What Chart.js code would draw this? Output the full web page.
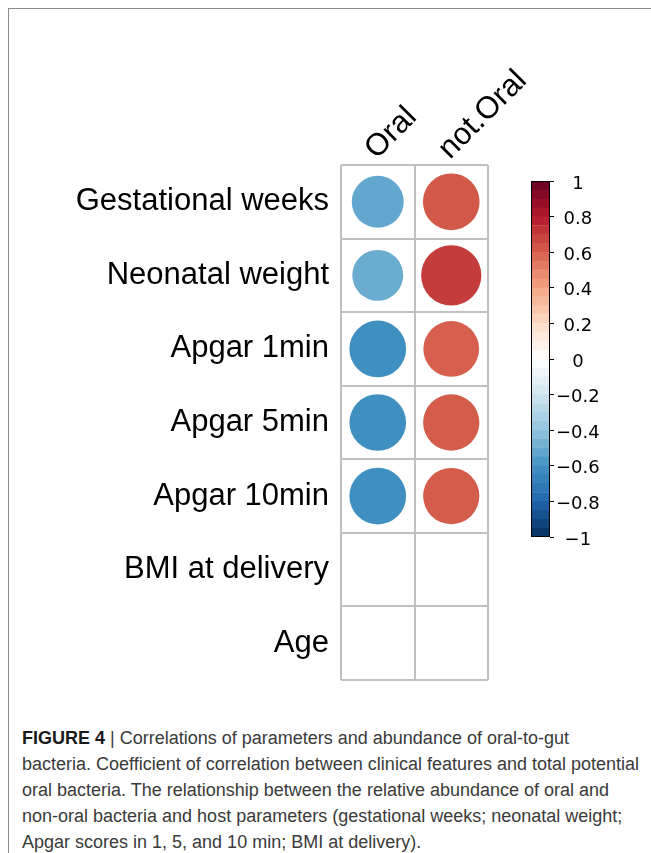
<!DOCTYPE html>
<html>
<head>
<meta charset="utf-8">
<script src="https://cdn.jsdelivr.net/npm/chart.js@4/dist/chart.umd.min.js"></script>
<style>
  html, body { margin: 0; padding: 0; background: #fff; }
  body { width: 651px; height: 853px; position: relative; overflow: hidden; }
  #frame { position: absolute; left: 8px; top: 8px; width: 660px; height: 860px;
           border-top: 1px solid #8c8c8c; border-left: 1px solid #8c8c8c; }
  #main { position: absolute; left: 0; top: 0; }
  #cbar { position: absolute; left: 500px; top: 150px; }
  #caption { position: absolute; left: 22px; top: 725px; font-family: "Liberation Sans", Arial, sans-serif;
             font-size: 18px; line-height: 26px; color: #3a3a3a; white-space: nowrap; }
  #caption b { color: #1a1a1a; }
</style>
</head>
<body>
<div id="frame"></div>
<canvas id="main" width="651" height="720"></canvas>
<canvas id="cbar" width="140" height="420"></canvas>
<div id="caption">
<b>FIGURE 4</b> | Correlations of parameters and abundance of oral-to-gut<br>
bacteria. Coefficient of correlation between clinical features and total potential<br>
oral bacteria. The relationship between the relative abundance of oral and<br>
non-oral bacteria and host parameters (gestational weeks; neonatal weight;<br>
Apgar scores in 1, 5, and 10 min; BMI at delivery).
</div>
<script>
// ---------- data ----------
const columns = ['Oral', 'not.Oral'];
const rowLabels = ['Gestational weeks', 'Neonatal weight', 'Apgar 1min', 'Apgar 5min',
                   'Apgar 10min', 'BMI at delivery', 'Age'];
const oralValues    = [-0.52, -0.50, -0.62, -0.62, -0.62, null, null];
const notOralValues = [ 0.62,  0.70,  0.60,  0.61,  0.61, null, null];
const colorbarTicks = [1, 0.8, 0.6, 0.4, 0.2, 0, -0.2, -0.4, -0.6, -0.8, -1];
const colorbarBands = 40;

// ---------- palette ----------
const rdbu = ['#053061','#2166AC','#4393C3','#92C5DE','#D1E5F0','#FFFFFF',
              '#FDDBC7','#F4A582','#D6604D','#B2182B','#67001F'];
function hex2rgb(h){ return [1,3,5].map(i => parseInt(h.substr(i,2),16)); }
function colorFor(v){
  const t = Math.max(0, Math.min(1, (v + 1) / 2)) * (rdbu.length - 1);
  const i = Math.min(rdbu.length - 2, Math.floor(t));
  const f = t - i;
  const a = hex2rgb(rdbu[i]), b = hex2rgb(rdbu[i+1]);
  const c = a.map((x, k) => Math.round(x + (b[k] - x) * f));
  return `rgb(${c[0]},${c[1]},${c[2]})`;
}

// ---------- main correlation grid ----------
const seriesByColumn = [oralValues, notOralValues];
const points = [];
seriesByColumn.forEach((vals, ci) => {
  vals.forEach((v, ri) => {
    if (v !== null) points.push({ x: columns[ci], y: rowLabels[ri], v: v });
  });
});

const labelFont = { family: '"Liberation Sans", Arial, Helvetica, sans-serif', size: 31 };
const gridColor = '#c0c0c0';

new Chart(document.getElementById('main'), {
  type: 'scatter',
  data: {
    datasets: [{
      data: points,
      pointStyle: 'circle',
      borderWidth: 0,
      pointBorderWidth: 0,
      backgroundColor: ctx => colorFor(ctx.raw.v),
      pointBackgroundColor: ctx => colorFor(ctx.raw.v),
      pointRadius: ctx => {
        const s = ctx.chart.scales.x;
        const cell = s.width / columns.length;
        return 0.49 * cell * Math.sqrt(Math.abs(ctx.raw.v));
      }
    }]
  },
  options: {
    responsive: false,
    animation: false,
    events: [],
    layout: { padding: { left: 0, top: 0, right: 163, bottom: 40 } },
    plugins: { legend: { display: false }, tooltip: { enabled: false } },
    scales: {
      x: {
        type: 'category',
        labels: columns,
        position: 'top',
        offset: true,
        grid: { offset: true, color: gridColor, lineWidth: 2, drawTicks: false, tickLength: 0 },
        border: { display: false },
        ticks: { font: labelFont, color: '#000', minRotation: 45, maxRotation: 45,
                 autoSkip: false, padding: -2, labelOffset: 19 },
        afterFit: s => { s.height = 165; }
      },
      y: {
        type: 'category',
        labels: rowLabels,
        offset: true,
        grid: { offset: true, color: gridColor, lineWidth: 2, drawTicks: false, tickLength: 0 },
        border: { display: false },
        ticks: { font: labelFont, color: '#000', padding: 12, autoSkip: false },
        afterFit: s => { s.width = 341; }
      }
    }
  }
});

// ---------- colour bar ----------
const bandData = [];
for (let i = 0; i < colorbarBands; i++) {
  const lo = -1 + 2 * i / colorbarBands, hi = -1 + 2 * (i + 1) / colorbarBands;
  bandData.push({ data: [[lo, hi]], backgroundColor: colorFor((lo + hi) / 2),
                  borderColor: colorFor((lo + hi) / 2), borderWidth: 0.5,
                  barPercentage: 1, categoryPercentage: 1, grouped: false, borderSkipped: false });
}

const frameRect = {
  id: 'frameRect',
  afterDatasetsDraw(chart) {
    const a = chart.chartArea, c = chart.ctx;
    c.save(); c.strokeStyle = '#000'; c.lineWidth = 1;
    c.strokeRect(Math.round(a.left) + 0.5, Math.round(a.top) + 0.5,
                 Math.round(a.right - a.left) - 1, Math.round(a.bottom - a.top) - 1);
    c.restore();
  }
};

new Chart(document.getElementById('cbar'), {
  type: 'bar',
  data: { labels: ['r'], datasets: bandData },
  options: {
    responsive: false,
    animation: false,
    events: [],
    layout: { padding: { left: 31, top: 31, right: 30, bottom: 33 } },
    plugins: { legend: { display: false }, tooltip: { enabled: false } },
    scales: {
      x: { display: false },
      y: {
        type: 'linear', position: 'right', min: -1, max: 1,
        afterBuildTicks: s => { s.ticks = colorbarTicks.map(v => ({ value: v })); },
        afterFit: s => { s.width = 60; },
        grid: { drawOnChartArea: false, drawTicks: true, tickLength: 4, color: '#000', lineWidth: 1 },
        border: { display: false },
        ticks: {
          font: { family: '"DejaVu Sans", sans-serif', size: 18 },
          color: '#000', padding: 2, crossAlign: 'center', labelOffset: 3,
          callback: v => { const r = Math.round(v * 10) / 10; return r < 0 ? '\u2212' + Math.abs(r) : String(r); }
        }
      }
    }
  },
  plugins: [frameRect]
});
</script>
</body>
</html>
